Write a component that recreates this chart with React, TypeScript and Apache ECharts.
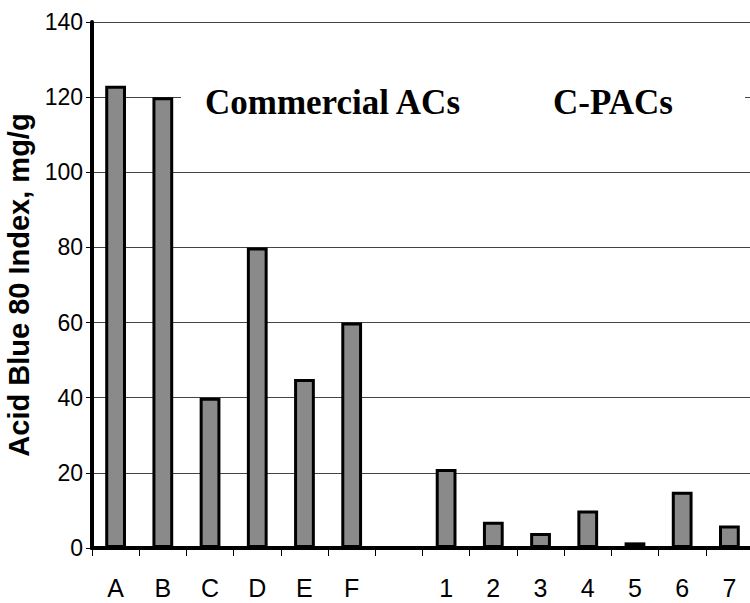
import React, { useEffect, useRef } from "react";
import * as echarts from "echarts";

const categories = ["A", "B", "C", "D", "E", "F", "", "1", "2", "3", "4", "5", "6", "7"];
const values: (number | null)[] = [123, 120, 40, 80, 45, 60, null, 21, 7, 4, 10, 1.5, 15, 6];
const yTicks = { min: 0, max: 140, interval: 20 };
const groupLabels = ["Commercial ACs", "C-PACs"];

export default function App() {
  const ref = useRef<HTMLDivElement>(null);
  useEffect(() => {
    if (!ref.current) return;
    const chart = echarts.init(ref.current, null, { renderer: "svg" });
    const sans = "Arial, 'Liberation Sans', sans-serif";
    chart.setOption({
      animation: false,
      grid: { left: 92, top: 22, right: -3, bottom: 55, containLabel: false, outerBoundsMode: "none" },
      xAxis: [
        {
          type: "category",
          data: categories,
          axisLine: { show: true, onZero: false, lineStyle: { color: "#000", width: 4 } },
          axisTick: { show: true, inside: false, length: 8, alignWithLabel: false, lineStyle: { color: "#000", width: 1 } },
          axisLabel: { color: "#000", fontFamily: sans, fontSize: 25, margin: 27, interval: 0 },
          splitLine: { show: false },
        },
        {
          type: "category",
          position: "top",
          data: categories,
          axisLine: { show: true, lineStyle: { color: "#000", width: 4 } },
          axisTick: { show: false },
          axisLabel: { show: false },
        },
      ],
      yAxis: {
        type: "value",
        min: yTicks.min,
        max: yTicks.max,
        interval: yTicks.interval,
        name: "Acid Blue 80 Index, mg/g",
        nameLocation: "middle",
        nameGap: 50,
        nameTextStyle: { color: "#000", fontFamily: sans, fontWeight: "bold", fontSize: 29 },
        axisLine: { show: true, lineStyle: { color: "#000", width: 4 } },
        axisTick: { show: true, length: 6, lineStyle: { color: "#000", width: 1 } },
        axisLabel: { color: "#000", fontFamily: sans, fontSize: 23, margin: 9 },
        splitLine: { show: true, lineStyle: { color: "#444", width: 1 } },
      },
      series: [
        {
          type: "bar",
          data: values,
          barWidth: "44%",
          itemStyle: { color: "#8a8a8a", borderColor: "#000", borderWidth: 3 },
        },
      ],
      graphic: [
        { type: "rect", left: 181, top: 78, shape: { width: 564, height: 44 }, style: { fill: "#fff" }, z: 10 },
        {
          type: "text",
          left: 205,
          top: 85,
          z: 11,
          style: { text: groupLabels[0], fill: "#000", font: "bold 35px 'Times New Roman', 'Liberation Serif', serif" },
        },
        {
          type: "text",
          left: 553,
          top: 85,
          z: 11,
          style: { text: groupLabels[1], fill: "#000", font: "bold 35px 'Times New Roman', 'Liberation Serif', serif" },
        },
      ],
    });
    return () => chart.dispose();
  }, []);
  return (
    <div style={{ position: "fixed", left: 0, top: 0, width: 750, height: 603, overflow: "hidden", background: "#fff" }}>
      <div ref={ref} style={{ width: 750, height: 603 }} />
    </div>
  );
}
